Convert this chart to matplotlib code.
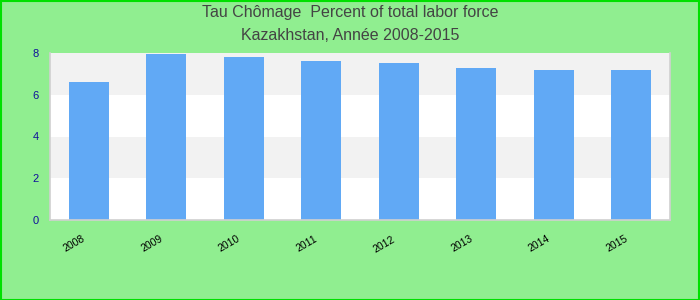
import matplotlib
matplotlib.use("Agg")
import matplotlib.pyplot as plt
import matplotlib.transforms as mtransforms
from matplotlib.patches import Rectangle

years = ["2008", "2009", "2010", "2011", "2012", "2013", "2014", "2015"]
values = [6.62, 7.97, 7.8, 7.6, 7.5, 7.27, 7.18, 7.18]
yticks = [0, 2, 4, 6, 8]
title_lines = ["Tau Chômage  Percent of total labor force", "Kazakhstan, Année 2008-2015"]

plt.rcParams['font.family'] = ['Liberation Sans', 'DejaVu Sans']

fig = plt.figure(figsize=(7, 3), dpi=100, facecolor='#90EE90')
ax = fig.add_axes([50/700, 1 - 220/300, 620/700, 167/300])
ax.set_facecolor('white')

for i in range(0, len(yticks) - 1):
    if i % 2 == 1:
        ax.axhspan(yticks[i], yticks[i + 1], color='#f2f2f2', zorder=0, lw=0)

x = list(range(len(years)))
ax.bar(x, values, width=0.52, color='#61a9f5', zorder=2)
ax.set_xlim(-0.5, len(years) - 0.5)
ax.set_ylim(0, 8)
ax.set_yticks(yticks)
ax.set_yticklabels([str(t) for t in yticks], color='#10109a', fontsize=8)
ax.set_xticks(x)
ax.set_xticklabels(years, rotation=30, ha='right', va='top', rotation_mode='anchor', fontsize=7.5, color='black')
ax.tick_params(axis='both', length=0)
ax.tick_params(axis='y', pad=8)
ax.tick_params(axis='x', pad=10)
offset = mtransforms.ScaledTranslation(-7/100, 0, fig.dpi_scale_trans)
for lbl in ax.get_xticklabels():
    lbl.set_transform(lbl.get_transform() + offset)
for s in ['left', 'bottom', 'right']:
    ax.spines[s].set_color('#d0d0d0')
    ax.spines[s].set_linewidth(1.2)
ax.spines['top'].set_visible(False)

fig.text(0.5, 1 - 13/300, title_lines[0], ha='center', va='center', fontsize=11.5, color='#444444')
fig.text(0.5, 1 - 36/300, title_lines[1], ha='center', va='center', fontsize=11.5, color='#444444')

fig.patches.append(Rectangle((0.5/700, 0.5/300), 1 - 1.5/700, 1 - 1.5/300, transform=fig.transFigure,
                             fill=False, edgecolor='#00e000', linewidth=1.5))

fig.savefig("out.png", dpi=100, facecolor=fig.get_facecolor())
